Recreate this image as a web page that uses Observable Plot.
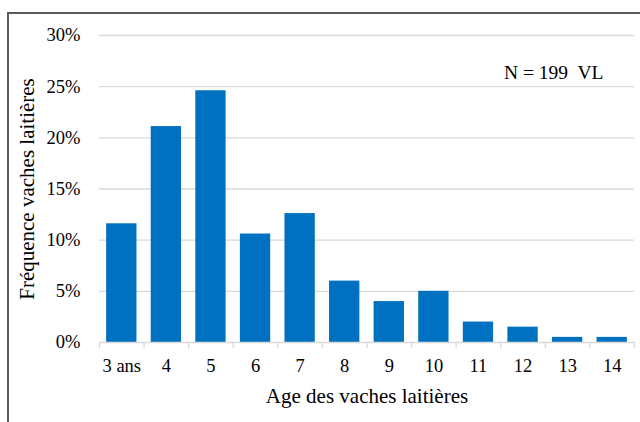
<!DOCTYPE html>
<html>
<head>
<meta charset="utf-8">
<script src="https://cdn.jsdelivr.net/npm/d3@7"></script>
<script src="https://cdn.jsdelivr.net/npm/@observablehq/plot@0.6"></script>
<style>
  html, body { margin: 0; padding: 0; background: #fff; }
  #wrap { position: relative; width: 640px; height: 422px; overflow: hidden; }
  #frame { position: absolute; left: 7px; top: 12px; width: 700px; height: 500px; border: 2px solid #5a5a5a; box-sizing: border-box; }
  #chart { position: absolute; left: 0; top: 0; }
</style>
</head>
<body>
<div id="wrap"><div id="frame"></div><div id="chart"></div></div>
<script>
const ages = ["3 ans", "4", "5", "6", "7", "8", "9", "10", "11", "12", "13", "14"];
const frequencies = [11.6, 21.1, 24.6, 10.6, 12.6, 6.0, 4.0, 5.0, 2.0, 1.5, 0.5, 0.5];
const yTicks = [0, 5, 10, 15, 20, 25, 30];
const note = "N = 199  VL";
const xTitle = "Age des vaches laitières";
const yTitle = "Fréquence vaches laitières";

const data = ages.map((a, i) => ({age: a, freq: frequencies[i]}));

const W = 640, H = 422, mL = 99, mR = 6, mT = 35, mB = 80;
const step = (W - mL - mR) / ages.length;

const chart = Plot.plot({
  width: W, height: H,
  marginLeft: mL, marginRight: mR, marginTop: mT, marginBottom: mB,
  style: {fontFamily: "'Liberation Serif', 'Times New Roman', serif", fontSize: "18.5px", color: "#000", background: "transparent"},
  x: {domain: ages, paddingInner: 0.32, paddingOuter: 0.16, round: false, label: null},
  y: {domain: [0, 30], label: null},
  marks: [
    Plot.ruleY(yTicks.filter(d => d > 0), {stroke: "#d9d9d9", strokeWidth: 1.3, strokeOpacity: 1}),
    Plot.barY(data, {x: "age", y: "freq", fill: "#0070c0"}),
    Plot.ruleY([0], {stroke: "#d9d9d9", strokeWidth: 1.3}),
    Plot.ruleX(ages, {x: d => d, dx: -step / 2, y1: 0, y2: 0, insetBottom: -6, stroke: "#d9d9d9", strokeWidth: 1.3}),
    Plot.ruleX([ages[ages.length - 1]], {x: d => d, dx: step / 2, y1: 0, y2: 0, insetBottom: -6, stroke: "#d9d9d9", strokeWidth: 1.3}),
    Plot.axisY({ticks: yTicks, tickFormat: d => d + "%", tickSize: 0, tickPadding: 19, fontSize: 18.5}),
    Plot.axisY({ticks: [], tickSize: 0, fontSize: 21,
      label: yTitle, labelAnchor: "center", labelOffset: 80, labelArrow: "none"}),
    Plot.axisX({tickSize: 0, tickPadding: 16, fontSize: 18.5}),
    Plot.axisX({ticks: [], tickSize: 0, fontSize: 21,
      label: xTitle, labelAnchor: "center", labelOffset: 60, labelArrow: "none"}),
    Plot.text([note], {frameAnchor: "top-right", dx: -31, dy: 30, fontSize: 19.5, textAnchor: "end"})
  ]
});
document.getElementById("chart").appendChild(chart);
</script>
</body>
</html>
